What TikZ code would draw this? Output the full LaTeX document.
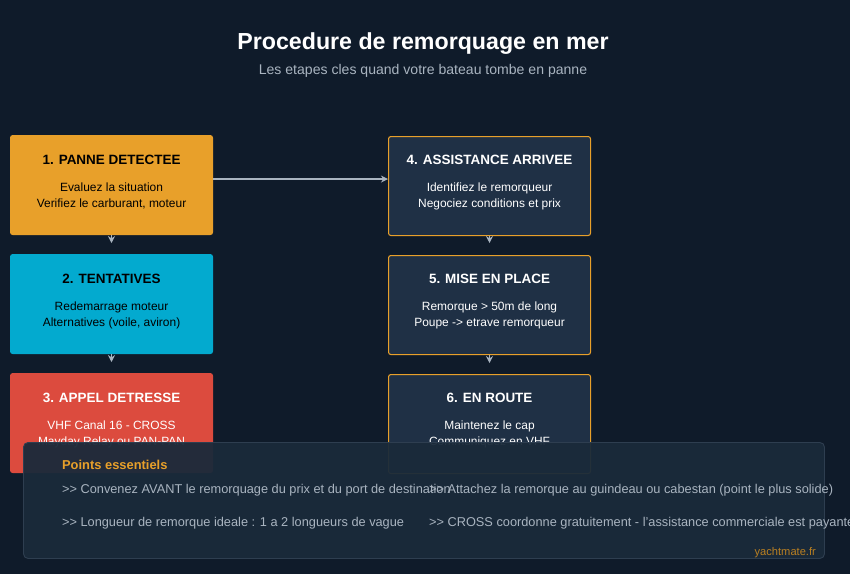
\documentclass[tikz,border=0pt]{standalone}
\usepackage{fontspec}
\setmainfont{Liberation Sans}
\usepackage{tikz}
\usetikzlibrary{arrows.meta,positioning,calc}
\definecolor{bgnavy}{HTML}{0F1B2A}
\definecolor{stepor}{HTML}{E8A02A}
\definecolor{stepcy}{HTML}{03AACF}
\definecolor{stepred}{HTML}{DC4B3E}
\definecolor{stepdark}{HTML}{1F3045}
\definecolor{notebg}{HTML}{1A2A3A}
\definecolor{noteline}{HTML}{2E3E50}
\definecolor{subgray}{HTML}{A9B4C0}
\tikzset{
  stage/.style={draw=stepor, line width=0.9pt, rounded corners=2pt, minimum width=6.06cm, minimum height=2.97cm, anchor=north west, inner sep=0pt},
  stephead/.style={font=\bfseries\fontsize{11.5}{13}\selectfont},
  stepbody/.style={font=\fontsize{10.2}{13.5}\selectfont, align=center},
  flow/.style={-{Stealth[length=6pt,width=6pt]}, draw=subgray, line width=1.4pt},
  note/.style={font=\fontsize{10.9}{12}\selectfont, text=subgray, anchor=west}
}
\begin{document}
\begin{tikzpicture}[x=0.03cm,y=-0.03cm]
  % background
  \fill[bgnavy] (0,0) rectangle (850,574);
  \useasboundingbox (0,0) rectangle (850,574);

  % title
  \node[text=white, font=\bfseries\fontsize{19.8}{22}\selectfont] (title) at (423,44) {Procedure de remorquage en mer};
  \node[text=subgray, font=\fontsize{12}{14}\selectfont] (subtitle) at (423,71) {Les etapes cles quand votre bateau tombe en panne};

  % left column
  \node[stage, fill=stepor, draw=stepor] (panne) at (10,135) {};
  \node[stage, fill=stepcy, draw=stepcy] (essai) at (10,254) {};
  \node[stage, fill=stepred, draw=stepred] (appel) at (10,373) {};
  % right column
  \node[stage, fill=stepdark] (aide) at (388,136) {};
  \node[stage, fill=stepdark] (place) at (388,255) {};
  \node[stage, fill=stepdark] (route) at (388,374) {};

  % texts
  \node[stephead] at ($(panne.north)+(0,25)$) {1. PANNE DETECTEE};
  \node[stepbody] at ($(panne.north)+(0,61)$) {Evaluez la situation\\Verifiez le carburant, moteur};
  \node[stephead] at ($(essai.north)+(0,25)$) {2. TENTATIVES};
  \node[stepbody] at ($(essai.north)+(0,61)$) {Redemarrage moteur\\Alternatives (voile, aviron)};
  \node[stephead, text=white] at ($(appel.north)+(0,25)$) {3. APPEL DETRESSE};
  \node[stepbody, text=white] at ($(appel.north)+(0,61)$) {VHF Canal 16 - CROSS\\Mayday Relay ou PAN-PAN};
  \node[stephead, text=white] at ($(aide.north)+(0,24)$) {4. ASSISTANCE ARRIVEE};
  \node[stepbody, text=white] at ($(aide.north)+(0,60)$) {Identifiez le remorqueur\\Negociez conditions et prix};
  \node[stephead, text=white] at ($(place.north)+(0,24)$) {5. MISE EN PLACE};
  \node[stepbody, text=white] at ($(place.north)+(0,60)$) {Remorque > 50m de long\\Poupe -> etrave remorqueur};
  \node[stephead, text=white] at ($(route.north)+(0,24)$) {6. EN ROUTE};
  \node[stepbody, text=white] at ($(route.north)+(0,60)$) {Maintenez le cap\\Communiquez en VHF};

  % connectors
  \draw[flow] ($(panne.east)+(0,-6)$) -- ($(aide.west)+(0,-7)$);
  \draw[flow] (panne.south) -- ++(0,8);
  \draw[flow] (essai.south) -- ++(0,8);
  \draw[flow] (aide.south) -- ++(0,7);
  \draw[flow] (place.south) -- ++(0,8);

  % key points
  \node[draw=noteline, fill=notebg, fill opacity=0.95, rounded corners=4pt, line width=0.8pt,
        minimum width=24.03cm, minimum height=3.48cm, anchor=north west] (points) at (23,442) {};
  \node[text=stepor, font=\bfseries\fontsize{11}{13}\selectfont, anchor=west] (pointshead) at (58,465) {Points essentiels};
  \node[note] at (58,490) {{>}{>} Convenez AVANT le remorquage du prix et du port de destination};
  \node[note] at (425,490) {{>}{>} Attachez la remorque au guindeau ou cabestan (point le plus solide)};
  \node[note] at (58,523) {{>}{>} Longueur de remorque ideale : 1 a 2 longueurs de vague};
  \node[note] at (425,523) {{>}{>} CROSS coordonne gratuitement - l'assistance commerciale est payante};
  \node[text=stepor!80!black, font=\fontsize{9.5}{11}\selectfont, anchor=east] at (820,553) {yachtmate.fr};
\end{tikzpicture}
\end{document}
